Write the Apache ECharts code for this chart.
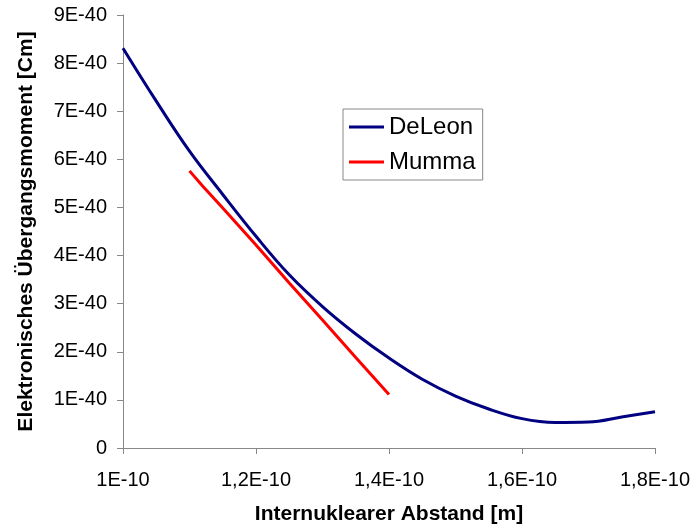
<!DOCTYPE html>
<html>
<head>
<meta charset="utf-8">
<script src="https://cdn.jsdelivr.net/npm/echarts@6/dist/echarts.min.js"></script>
<style>
html,body{margin:0;padding:0;background:#fff;}
#chart{width:694px;height:531px;}
</style>
</head>
<body>
<div id="chart"></div>
<script>
// x values in units of 1E-10 m, y values in units of 1E-40 Cm
var deleonX = [1.00, 1.05, 1.10, 1.15, 1.20, 1.25, 1.30, 1.35, 1.40, 1.45, 1.50, 1.55, 1.60, 1.65, 1.70, 1.75, 1.80];
var deleonY = [8.31, 7.21, 6.17, 5.27, 4.40, 3.60, 2.94, 2.37, 1.87, 1.43, 1.08, 0.81, 0.61, 0.53, 0.54, 0.645, 0.755];
var mummaX = [1.10, 1.12, 1.15, 1.20, 1.25, 1.30, 1.35, 1.40];
var mummaY = [5.76, 5.44, 4.99, 4.22, 3.43, 2.66, 1.88, 1.11];
var xTickValues = [1.0, 1.2, 1.4, 1.6, 1.8];
var xTickLabels = ['1E-10', '1,2E-10', '1,4E-10', '1,6E-10', '1,8E-10'];
var yTickValues = [0, 1, 2, 3, 4, 5, 6, 7, 8, 9];
var yTickLabels = ['0', '1E-40', '2E-40', '3E-40', '4E-40', '5E-40', '6E-40', '7E-40', '8E-40', '9E-40'];
var seriesNames = ['DeLeon', 'Mumma'];
var xTitle = 'Internuklearer Abstand [m]';
var yTitle = 'Elektronisches Übergangsmoment [Cm]';

function pairs(xs, ys) { return xs.map(function (x, i) { return [x, ys[i]]; }); }
function labelFor(vals, labels) {
  return function (v) {
    for (var i = 0; i < vals.length; i++) { if (Math.abs(vals[i] - v) < 1e-6) return labels[i]; }
    return '';
  };
}
var FONT = '"Liberation Sans", Arial, sans-serif';
var chart = echarts.init(document.getElementById('chart'), null, {renderer: 'canvas'});
chart.setOption({
  backgroundColor: '#ffffff',
  animation: false,
  grid: {left: 123, right: 39, top: 15, bottom: 83, containLabel: false},
  legend: {
    orient: 'vertical',
    left: 343, top: 109,
    data: [{name: seriesNames[0], icon: 'rect'}, {name: seriesNames[1], icon: 'rect'}],
    itemWidth: 35, itemHeight: 3, itemGap: 9,
    padding: [5, 7, 5, 6],
    borderColor: '#888888', borderWidth: 1,
    textStyle: {fontFamily: FONT, fontSize: 24, color: '#000', lineHeight: 26}
  },
  xAxis: {
    type: 'value', min: 1.0, max: 1.8, interval: 0.2,
    name: xTitle, nameLocation: 'middle', nameGap: 56,
    nameTextStyle: {fontFamily: FONT, fontSize: 21, fontWeight: 'bold', color: '#000'},
    axisLine: {show: true, lineStyle: {color: '#888888', width: 1}},
    axisTick: {show: true, inside: false, length: 6, lineStyle: {color: '#888888'}},
    axisLabel: {margin: 22, fontFamily: FONT, fontSize: 20, color: '#000', formatter: labelFor(xTickValues, xTickLabels)},
    splitLine: {show: false}
  },
  yAxis: {
    type: 'value', min: 0, max: 9, interval: 1,
    name: yTitle, nameLocation: 'middle', nameGap: 86, nameRotate: 90,
    nameTextStyle: {fontFamily: FONT, fontSize: 21, fontWeight: 'bold', color: '#000'},
    axisLine: {show: true, lineStyle: {color: '#888888', width: 1}},
    axisTick: {show: true, inside: false, length: 6, lineStyle: {color: '#888888'}},
    axisLabel: {margin: 16, fontFamily: FONT, fontSize: 20, color: '#000', formatter: labelFor(yTickValues, yTickLabels)},
    splitLine: {show: false}
  },
  series: [
    {name: seriesNames[0], type: 'line', smooth: 0.4, symbol: 'none', data: pairs(deleonX, deleonY),
     lineStyle: {color: '#000080', width: 3}, itemStyle: {color: '#000080'}},
    {name: seriesNames[1], type: 'line', smooth: false, symbol: 'none', data: pairs(mummaX, mummaY),
     lineStyle: {color: '#ff0000', width: 3}, itemStyle: {color: '#ff0000'}}
  ]
});
</script>
</body>
</html>
